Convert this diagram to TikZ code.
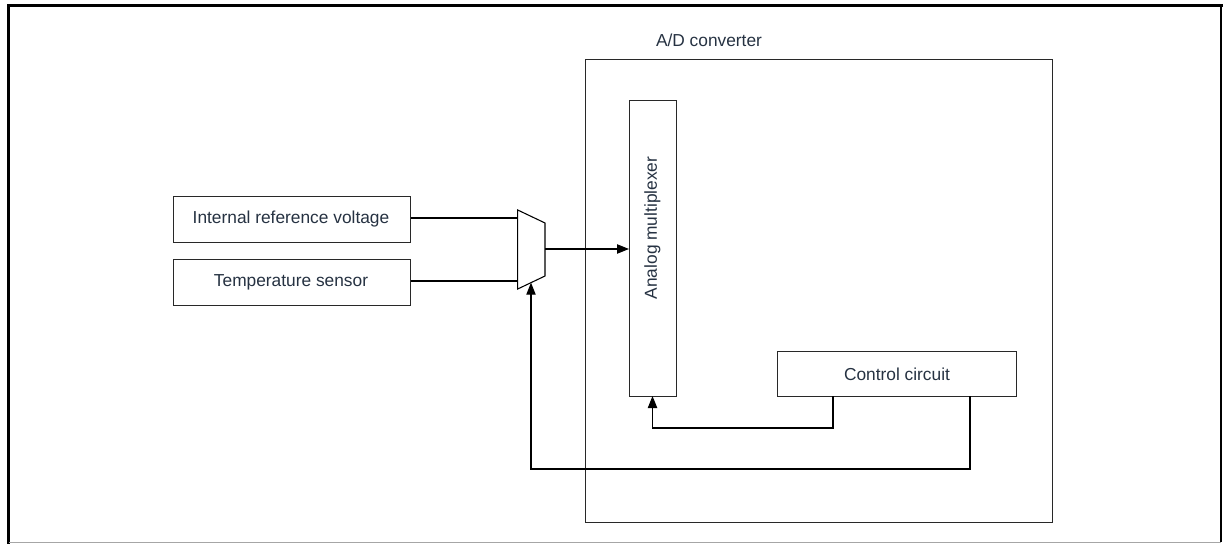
\documentclass[tikz,border=0pt]{standalone}
\usepackage{fontspec}
\setmainfont{Liberation Sans}
\usetikzlibrary{arrows.meta}
\definecolor{txt}{RGB}{38,50,66}
\definecolor{edge}{RGB}{40,40,40}
\begin{document}
\begin{tikzpicture}[x=0.75pt,y=-0.75pt,
  blk/.style={draw=edge,line width=0.8pt,fill=white,inner sep=0pt,text=txt,font=\fontsize{13}{15}\selectfont},
  lbl/.style={text=txt,font=\fontsize{13}{15}\selectfont,inner sep=0pt},
  wire/.style={draw=black,line width=0.8pt},
  arr/.style={wire,-{Triangle[length=9pt,width=7pt]}}]
\useasboundingbox (0,0) rectangle (1223,545);
% frame
\draw[line width=2.3pt,line cap=rect] (8.5,542) -- (8.5,5.5) -- (1221,5.5);
\draw[line width=0.8pt] (1221,5.5) -- (1221,542);
\draw[line width=0.9pt,draw=gray!70] (8.5,542.5) -- (1221,542.5);
% A/D converter
\node[blk,minimum width=467*0.75pt,minimum height=463*0.75pt,anchor=north west] (adc) at (585,59) {};
\node[lbl] (adclbl) at (709,40) {A/D converter};
% analog multiplexer
\node[blk,minimum width=47*0.75pt,minimum height=296*0.75pt,anchor=north west] (mux) at (629,100) {};
\node[lbl,rotate=90] (muxlbl) at (652.5,228) {Analog multiplexer};
% control circuit
\node[blk,minimum width=239*0.75pt,minimum height=45*0.75pt,anchor=north west] (ctrl) at (777,351) {};
\node[lbl] (ctrllbl) at (897,374) {Control circuit};
% left boxes
\node[blk,minimum width=237*0.75pt,minimum height=46*0.75pt,anchor=north west] (irv) at (173,196) {};
\node[lbl] (irvlbl) at (291,219) {Internal reference voltage};
\node[blk,minimum width=237*0.75pt,minimum height=46*0.75pt,anchor=north west] (ts) at (173,259) {};
\node[lbl] (tslbl) at (291,282) {Temperature sensor};
% selector trapezoid
\coordinate (tl) at (517.7,210);
\coordinate (tr) at (545,223);
\coordinate (br) at (545,276);
\coordinate (bl) at (517.7,289);
\draw[line width=0.8pt] (tl) -- (tr) -- (br) -- (bl) -- cycle;
\coordinate (in1) at (517.7,218);
\coordinate (in2) at (517.7,281);
\coordinate (out) at (545,249);
\coordinate (sel) at (531,282.7);
% wires
\draw[wire] (irv.east |- in1) -- (in1);
\draw[wire] (ts.east |- in2) -- (in2);
\draw[arr] (out) -- (mux.west |- out);
\coordinate (c1) at (833,396);
\coordinate (c2) at (970,396);
\draw[arr] (c1) -- (833,428) -- (652.5,428) -- (652.5,396);
\draw[arr] (c2) -- (970,469) -- (531,469) -- (sel);
\end{tikzpicture}
\end{document}
